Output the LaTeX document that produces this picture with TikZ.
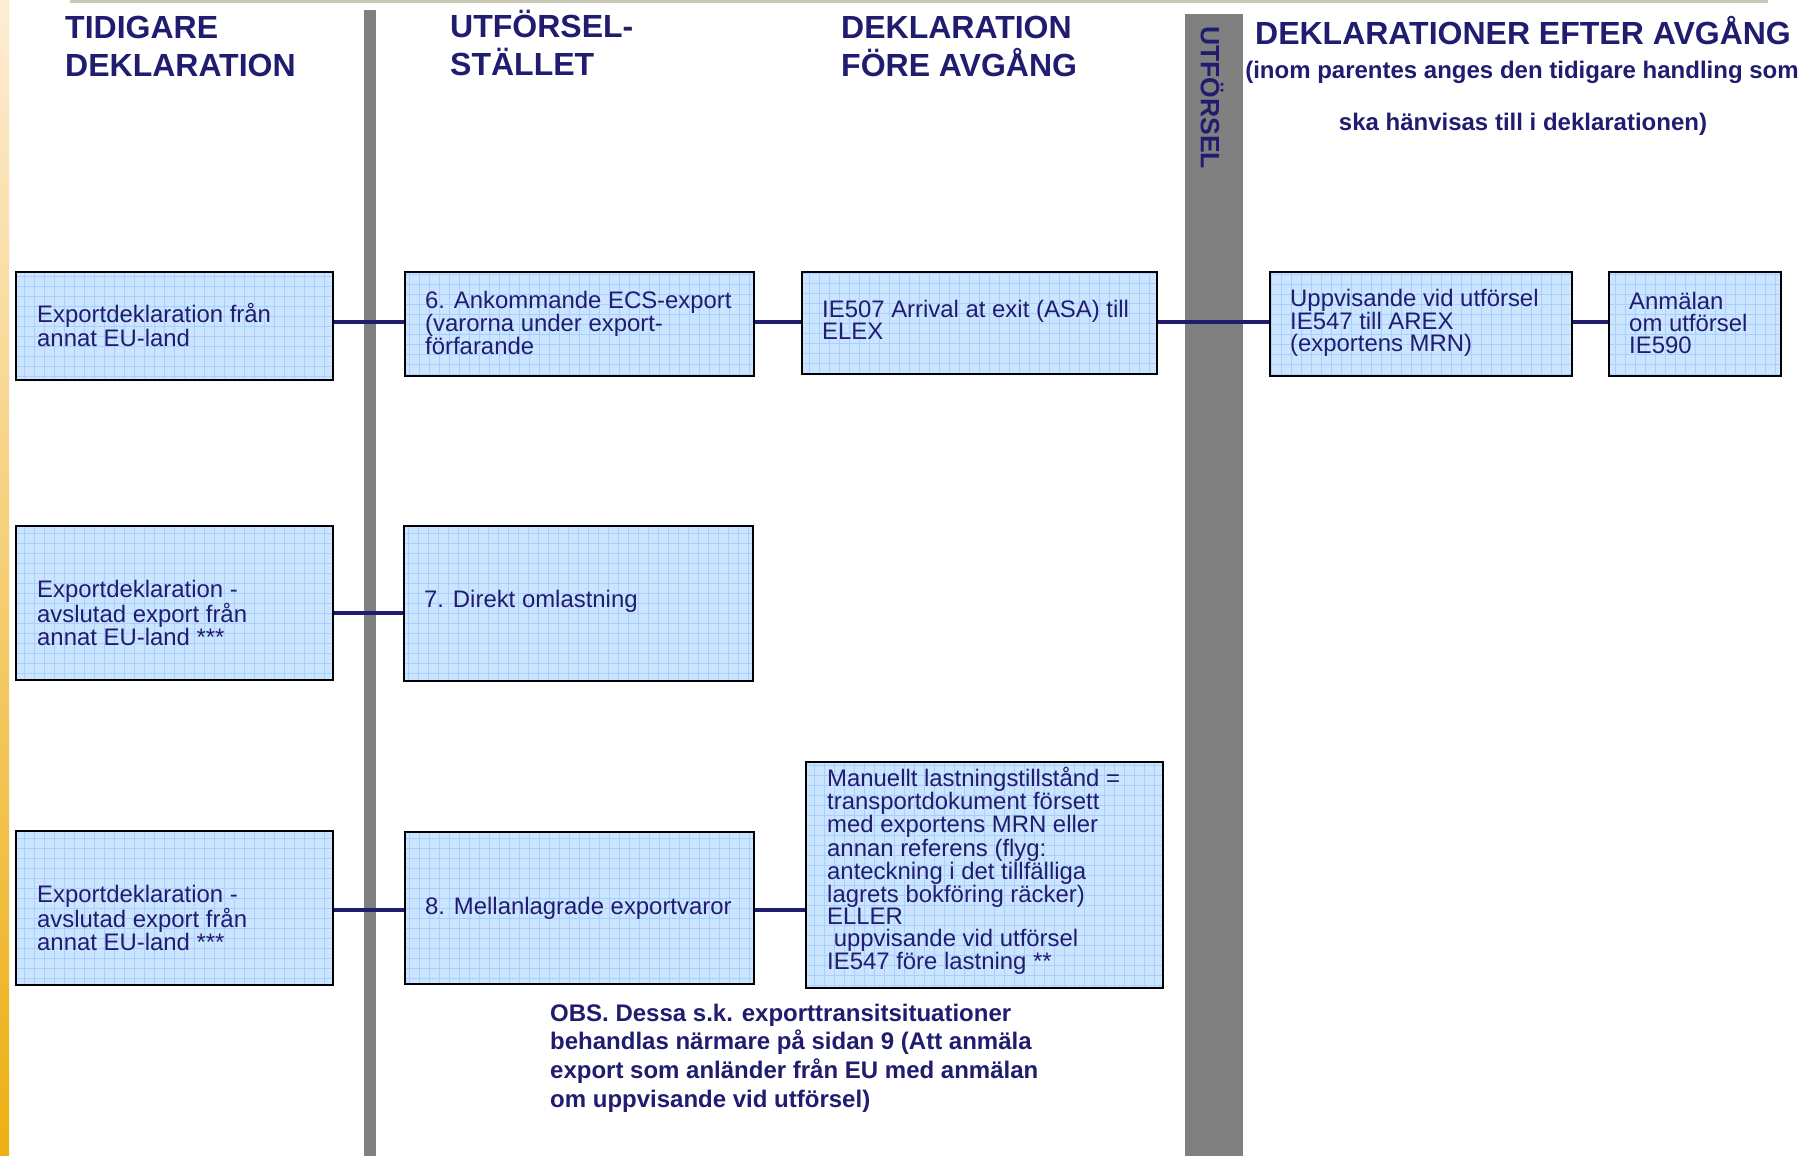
\documentclass[tikz,border=0pt]{standalone}
\usepackage{fontspec}
\setmainfont{Liberation Sans}
\definecolor{navy}{RGB}{32,28,112}
\definecolor{boxfill}{RGB}{204,229,255}
\definecolor{gridblue}{RGB}{168,207,255}
\definecolor{bargray}{RGB}{128,128,128}
\definecolor{toplinec}{RGB}{203,199,181}
\definecolor{stripTop}{RGB}{254,236,212}
\definecolor{stripBot}{RGB}{236,176,18}
\tikzset{
  box/.style={draw=black, line width=2.3pt, fill=boxfill, rectangle, inner sep=0pt, anchor=north west,
    path picture={\draw[gridblue, line width=0.8pt, step=10pt] (path picture bounding box.south west) grid (path picture bounding box.north east);}},
  boxtext/.style={anchor=west, align=left, inner sep=0pt, text=navy, font=\fontsize{23.9}{22}\selectfont},
  head/.style={anchor=base west, inner sep=0pt, text=navy, font=\fontsize{32}{38}\selectfont\bfseries},
  subhead/.style={anchor=base, inner sep=0pt, text=navy, font=\fontsize{24}{28}\selectfont\bfseries},
  conn/.style={draw=navy, line width=3.8pt},
}
\begin{document}
\begin{tikzpicture}[x=1pt,y=-1pt]
\useasboundingbox[fill=white] (0,0) rectangle (1816,1156);
% left gradient strip
\shade[top color=stripTop, bottom color=stripBot] (0,0) rectangle (9,1156);
% top line
\draw[toplinec, line width=3pt] (70,1.5) -- (1768,1.5);
% vertical bars
\fill[bargray] (364,10) rectangle (376,1156);
\fill[bargray] (1185,14) rectangle (1243,1156);
\node[rotate=-90, anchor=west, inner sep=0pt, text=navy, font=\fontsize{26.5}{30}\selectfont\bfseries] (utf) at (1212,26) {UTFÖRSEL};

% headers
\node[head] (h1a) at (65,39) {TIDIGARE};
\node[head] (h1b) at (65,77) {DEKLARATION};
\node[head] (h2a) at (450,38) {UTFÖRSEL-};
\node[head] (h2b) at (450,76) {STÄLLET};
\node[head] (h3a) at (841,39) {DEKLARATION};
\node[head] (h3b) at (841,77) {FÖRE AVGÅNG};
\node[head, anchor=base] (h4) at (1523,45) {DEKLARATIONER EFTER AVGÅNG};
\node[subhead] (s1) at (1522,79) {(inom parentes anges den tidigare handling som};
\node[subhead] (s2) at (1523,130) {ska hänvisas till i deklarationen)};

% connector rows
\coordinate (r1) at (0,322);
\coordinate (r2) at (0,613);
\coordinate (r3) at (0,910);

% boxes
\node[box, minimum width=317pt, minimum height=108pt] (b1) at (15,271) {};
\node[box, minimum width=349pt, minimum height=104pt] (b2) at (404,271) {};
\node[box, minimum width=355pt, minimum height=102pt] (b3) at (801,271) {};
\node[box, minimum width=302pt, minimum height=104pt] (b4) at (1269,271) {};
\node[box, minimum width=172pt, minimum height=104pt] (b5) at (1608,271) {};
\node[box, minimum width=317pt, minimum height=154pt] (b6) at (15,525) {};
\node[box, minimum width=349pt, minimum height=155pt] (b7) at (403,525) {};
\node[box, minimum width=317pt, minimum height=154pt] (b8) at (15,830) {};
\node[box, minimum width=349pt, minimum height=152pt] (b9) at (404,831) {};
\node[box, minimum width=357pt, minimum height=226pt] (b10) at (805,761) {};

% connectors
\draw[conn] (b1.east |- r1) -- (b2.west |- r1);
\draw[conn] (b2.east |- r1) -- (b3.west |- r1);
\draw[conn] (b3.east |- r1) -- (b4.west |- r1);
\draw[conn] (b4.east |- r1) -- (b5.west |- r1);
\draw[conn] (b6.east |- r2) -- (b7.west |- r2);
\draw[conn] (b8.east |- r3) -- (b9.west |- r3);
\draw[conn] (b9.east |- r3) -- (b10.west |- r3);

% box texts
\node[boxtext] (t1) at (37,325) {Exportdeklaration från\\annat EU-land};
\node[boxtext] (t2) at (425,323) {6. Ankommande ECS-export\\(varorna under export-\\förfarande};
\node[boxtext] (t3) at (822,320) {IE507 Arrival at exit (ASA) till\\ELEX};
\node[boxtext] (t4) at (1290,323) {Uppvisande vid utförsel\\IE547 till AREX\\(exportens MRN)};
\node[boxtext] (t5) at (1629,323) {Anmälan\\om utförsel\\IE590};
\node[boxtext] (t6) at (37,613) {Exportdeklaration -\\avslutad export från\\annat EU-land ***};
\node[boxtext] (t7) at (424,601) {7. Direkt omlastning};
\node[boxtext] (t8) at (37,918) {Exportdeklaration -\\avslutad export från\\annat EU-land ***};
\node[boxtext] (t9) at (425,908) {8. Mellanlagrade exportvaror};
\node[boxtext] (t10) at (827,871) {Manuellt lastningstillstånd =\\transportdokument försett\\med exportens MRN eller\\annan referens (flyg:\\anteckning i det tillfälliga\\lagrets bokföring räcker)\\ELLER\\\ uppvisande vid utförsel\\IE547 före lastning **};

% note
\node[anchor=west, align=left, inner sep=0pt, text=navy, font=\fontsize{24}{28.7}\selectfont\bfseries] (obs) at (550,1058) {OBS. Dessa s.k. exporttransitsituationer\\behandlas närmare på sidan 9 (Att anmäla\\export som anländer från EU med anmälan\\om uppvisande vid utförsel)};
\end{tikzpicture}
\end{document}
